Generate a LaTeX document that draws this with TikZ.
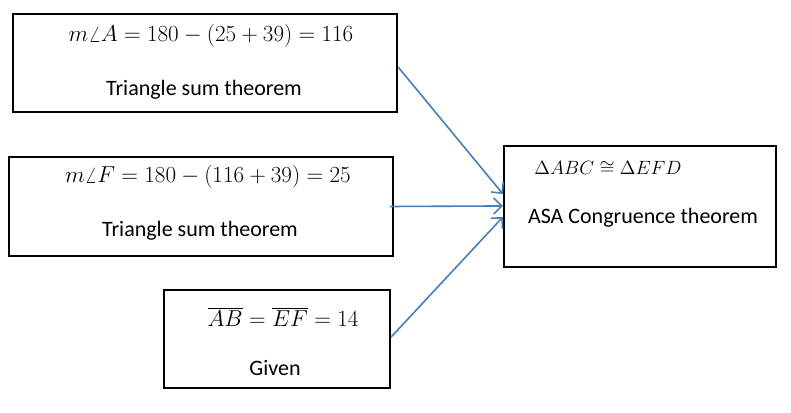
\documentclass[tikz,border=0pt]{standalone}
\usepackage{fontspec}
\setmainfont{Carlito}
\usetikzlibrary{arrows.meta}
\definecolor{linkblue}{HTML}{4A7EBB}

\begin{document}
\begin{tikzpicture}[x=0.75pt, y=0.75pt,
		box/.style={rectangle, draw=black, line width=1.7pt, inner sep=0pt},
		lbl/.style={inner sep=0pt, font=\fontsize{16.5}{20}\selectfont},
		arr/.style={draw=linkblue, line width=1.2pt, -{Straight Barb[length=6pt, width=12pt]}}
	]
		\useasboundingbox (0,0) rectangle (791,413);

		\node[box, minimum width=288pt, minimum height=73.5pt] (B1) at (205,350) {};
		\node[box, minimum width=288pt, minimum height=74.25pt] (B2) at (201,206.5) {};
		\node[box, minimum width=169.5pt, minimum height=73.5pt] (B3) at (277,74) {};
		\node[box, minimum width=204pt, minimum height=90.75pt] (B4) at (640,206.5) {};

		\node[lbl] (M1) at (211,377) {$m\angle A = 180 - (25+39) = 116$};
		\node[lbl] (T1) at (204,323) {Triangle sum theorem};

		\node[lbl] (M2) at (208,236) {$m\angle F = 180 - (116+39) = 25$};
		\node[lbl] (T2) at (200,182) {Triangle sum theorem};

		\node[lbl] (M3) at (283,96) {$\overline{AB} = \overline{EF} = 14$};
		\node[lbl] (T3) at (275,45) {Given};

		\node[lbl, font=\fontsize{15}{18}\selectfont] (M4) at (608,245) {$\Delta ABC \cong \Delta EFD$};
		\node[lbl] (T4) at (643,195) {ASA Congruence theorem};

		\draw[arr] ([yshift=-3pt]B1.east) -- ([yshift=9.4pt]B4.west);
		\draw[arr] ([xshift=-3pt]B2.east) -- ([yshift=0.4pt]B4.west);
		\draw[arr] ([yshift=1.5pt]B3.east) -- ([yshift=-7.9pt]B4.west);
	\end{tikzpicture}
\end{document}
